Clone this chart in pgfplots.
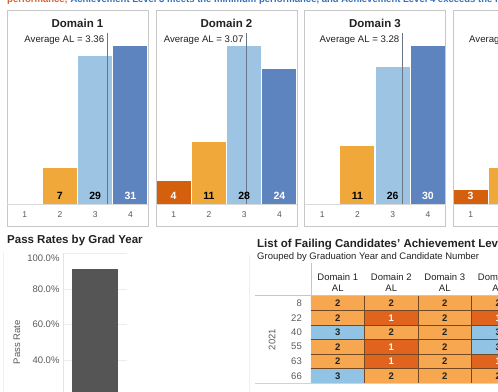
\documentclass[border=0pt]{standalone}
\usepackage{pgfplots}
\pgfplotsset{compat=1.18}
\usepackage{fontspec}
\setmainfont{Liberation Sans}
\definecolor{c1}{RGB}{212,96,14}
\definecolor{c2}{RGB}{240,168,58}
\definecolor{c3}{RGB}{158,196,228}
\definecolor{c4}{RGB}{94,132,192}
\definecolor{avgc}{RGB}{105,118,135}
\definecolor{panelc}{RGB}{200,200,200}
\definecolor{tickc}{RGB}{90,90,90}
\definecolor{darkt}{RGB}{34,34,34}
\definecolor{tb}{RGB}{115,72,35}
\definecolor{topor}{RGB}{214,98,48}
\definecolor{topbl}{RGB}{50,110,185}
\definecolor{passc}{RGB}{85,85,85}
\newcommand\titlefont{\bfseries\fontsize{11.5bp}{13bp}\selectfont}
\newcommand\avgfont{\fontsize{9.6bp}{11bp}\selectfont}
\newcommand\valfont{\bfseries\fontsize{10.5bp}{12bp}\selectfont}
\newcommand\tickfont{\fontsize{8.5bp}{10bp}\selectfont}
\newcommand\smallfont{\fontsize{9.5bp}{11bp}\selectfont}
\newcommand\pct[1]{\pgfmathprintnumber[fixed,fixed zerofill,precision=1,assume math mode=true]{#1}\%}
\pgfplotsset{
  /pgf/number format/assume math mode=true,
  domainax/.style={
    scale only axis, width=141bp, height=174bp, anchor=south west,
    xmin=0.5, xmax=4.5, ymin=0,
    axis x line*=bottom, axis y line=none, ytick=\empty,
    x axis line style={draw=gray!30, line width=0.6pt},
    xtick={1,2,3,4}, major tick length=0pt,
    xticklabel style={font=\tickfont, text=tickc, anchor=center, yshift=-11bp},
    title style={font=\titlefont, text=darkt, at={(0.5,1)}, anchor=center, yshift=1bp},
    clip=false,
  },
  barp/.style={ybar, bar width=0.97, bar shift=0pt, draw=none, fill=#1},
  avgline/.style={avgc, line width=0.8pt},
  vlab/.style={draw=none, nodes near coords, point meta=explicit symbolic,
    every node near coord/.append style={anchor=center, yshift=8bp, font=\valfont, text=#1}},
}
\begin{document}
\begin{tikzpicture}
\useasboundingbox (0,0) rectangle (498bp,392bp);
\clip (0,0) rectangle (498bp,392bp);
\fill[white] (0,0) rectangle (498bp,392bp);
% top strip text (mostly cut off)
\node[anchor=base west, inner sep=0pt, font=\bfseries\fontsize{9.5bp}{11bp}\selectfont] at (7bp,389bp)
 {\textcolor{topor}{performance;} \textcolor{topbl}{Achievement Level 3 meets the minimum performance, and Achievement Level 4 exceeds the minimum performance.}};
% panel frames
\foreach \L in {7,156,304.5,453}{
  \draw[panelc, line width=0.8pt] (\L bp,166bp) rectangle ({(\L+141)*1bp},382bp);
}
% Domain 1
\begin{axis}[domainax, at={(7bp,188bp)}, ymax=34.14, title={Domain 1}]
\addplot[barp=c2] coordinates {(2,7)};
\addplot[barp=c3] coordinates {(3,29)};
\addplot[barp=c4] coordinates {(4,31)};
\addplot[avgline] coordinates {(3.36,0) (3.36,33.55)};
\node[anchor=east, inner sep=0pt, font=\avgfont, text=darkt, xshift=-3.5bp] at (axis cs:3.36,32.09) {Average AL = 3.36};
\addplot[vlab=black] coordinates {(2,0)[7] (3,0)[29]};
\addplot[vlab=white] coordinates {(4,0)[31]};
\end{axis}
% Domain 2
\begin{axis}[domainax, at={(156bp,188bp)}, ymax=30.84, title={Domain 2}]
\addplot[barp=c1] coordinates {(1,4)};
\addplot[barp=c2] coordinates {(2,11)};
\addplot[barp=c3] coordinates {(3,28)};
\addplot[barp=c4] coordinates {(4,24)};
\addplot[avgline] coordinates {(3.07,0) (3.07,30.3)};
\node[anchor=east, inner sep=0pt, font=\avgfont, text=darkt, xshift=-3bp] at (axis cs:3.07,28.99) {Average AL = 3.07};
\addplot[vlab=black] coordinates {(2,0)[11] (3,0)[28]};
\addplot[vlab=white] coordinates {(1,0)[4] (4,0)[24]};
\end{axis}
% Domain 3
\begin{axis}[domainax, at={(304.5bp,188bp)}, ymax=33.04, title={Domain 3}]
\addplot[barp=c2] coordinates {(2,11)};
\addplot[barp=c3] coordinates {(3,26)};
\addplot[barp=c4] coordinates {(4,30)};
\addplot[avgline] coordinates {(3.28,0) (3.28,32.47)};
\node[anchor=east, inner sep=0pt, font=\avgfont, text=darkt, xshift=-3bp] at (axis cs:3.28,31.06) {Average AL = 3.28};
\addplot[vlab=black] coordinates {(2,0)[11] (3,0)[26]};
\addplot[vlab=white] coordinates {(4,0)[30]};
\end{axis}
% Domain 4 (partly visible)
\begin{axis}[domainax, at={(453bp,188bp)}, ymax=38.55, title={Domain 4}]
\addplot[barp=c1] coordinates {(1,3)};
\addplot[barp=c2] coordinates {(2,8)};
\addplot[barp=c3] coordinates {(3,21)};
\addplot[barp=c4] coordinates {(4,35)};
\addplot[avgline] coordinates {(3.31,0) (3.31,37.88)};
\node[anchor=east, inner sep=0pt, font=\avgfont, text=darkt, xshift=-3bp] at (axis cs:3.31,36.24) {Average AL = 3.31};
\addplot[vlab=black] coordinates {(2,0)[8] (3,0)[21]};
\addplot[vlab=white] coordinates {(1,0)[3] (4,0)[35]};
\end{axis}
% bottom pane borders
\draw[gray!12, line width=0.8pt] (3bp,0bp) -- (3bp,140bp);
\draw[gray!12, line width=0.8pt] (249bp,0bp) -- (249bp,137bp);
% Pass rates
\node[anchor=base west, inner sep=0pt, font=\titlefont, text=darkt] at (7bp,148bp) {Pass Rates by Grad Year};
\begin{axis}[scale only axis, anchor=south west, at={(63bp,-39bp)}, width=64bp, height=177.5bp,
  xmin=0, xmax=1, ymin=0, ymax=100, ytick={40,60,80,100},
  yticklabel={\ifnum\ticknum=3\relax\raisebox{-4.5bp}[\height][\depth]{\pct{\tick}}\else\pct{\tick}\fi},
  yticklabel style={font=\smallfont, text=tickc},
  ymajorgrids, grid style={gray!15, line width=0.6pt},
  xtick=\empty, axis x line=none, axis y line*=left,
  y axis line style={draw=gray!20, line width=0.6pt}, major tick length=0pt,
  ylabel={Pass Rate}, ylabel style={font=\smallfont, text=tickc, at={(axis description cs:-0.72,0.5)}, anchor=center}]
\addplot[ybar, bar width=0.72, bar shift=0pt, fill=passc, draw=none] coordinates {(0.5,91.0)};
\end{axis}
% Failing candidates table
\node[anchor=base west, inner sep=0pt, font=\titlefont, text=darkt] at (257bp,144bp) {List of Failing Candidates' Achievement Levels};
\node[anchor=base west, inner sep=0pt, font=\smallfont, text=darkt] at (257bp,132.7bp) {Grouped by Graduation Year and Candidate Number};
\draw[gray!45, line width=0.6pt] (311bp,96bp) -- (311bp,129bp);
\begin{axis}[scale only axis, anchor=south west, at={(311bp,9bp)}, width=214bp, height=87bp,
  xmin=0.5, xmax=4.5, ymin=0.5, ymax=6.5, y dir=reverse,
  axis line style={draw=none}, major tick length=0pt, minor tick length=0pt,
  xtick={1,2,3,4}, xticklabels={{Domain 1\\AL},{Domain 2\\AL},{Domain 3\\AL},{Domain 4\\AL}},
  xticklabel pos=upper,
  xticklabel style={align=center, anchor=south, inner sep=0pt, yshift=4bp, font=\smallfont, text=darkt},
  ytick={1,2,3,4,5,6}, yticklabels={8,22,40,55,63,66},
  yticklabel style={anchor=east, inner sep=0pt, xshift=-9bp, font=\smallfont, text=tickc},
  minor xtick={1.5,2.5,3.5}, minor ytick={1.5,2.5,3.5,4.5,5.5},
  xminorgrids, yminorgrids, minor grid style={tb, line width=0.7pt},
  axis on top,
  colormap={tbl}{rgb255=(0,0,0) rgb255=(224,100,30) rgb255=(247,167,80) rgb255=(145,196,228)},
  colormap access=direct,
  ylabel={2021}, ylabel style={font=\smallfont, text=tickc, at={(axis description cs:-0.182,0.5)}, anchor=center},
  clip=false]
\addplot[matrix plot*, mesh/cols=4, point meta=explicit] coordinates {
 (1,1)[2] (2,1)[2] (3,1)[2] (4,1)[2]
 (1,2)[2] (2,2)[1] (3,2)[2] (4,2)[1]
 (1,3)[3] (2,3)[2] (3,3)[2] (4,3)[3]
 (1,4)[2] (2,4)[1] (3,4)[2] (4,4)[3]
 (1,5)[2] (2,5)[1] (3,5)[2] (4,5)[1]
 (1,6)[3] (2,6)[2] (3,6)[2] (4,6)[2]
};
\addplot[draw=none, nodes near coords, point meta=explicit symbolic,
  every node near coord/.append style={anchor=center, font=\bfseries\fontsize{9.5bp}{11bp}\selectfont, text=darkt}]
  coordinates {(1,1)[2] (2,1)[2] (3,1)[2] (4,1)[2] (1,2)[2] (3,2)[2] (1,3)[3] (2,3)[2] (3,3)[2] (4,3)[3]
  (1,4)[2] (3,4)[2] (4,4)[3] (1,5)[2] (3,5)[2] (1,6)[3] (2,6)[2] (3,6)[2] (4,6)[2]};
\addplot[draw=none, nodes near coords, point meta=explicit symbolic,
  every node near coord/.append style={anchor=center, font=\bfseries\fontsize{9.5bp}{11bp}\selectfont, text=white}]
  coordinates {(2,2)[1] (4,2)[1] (2,4)[1] (2,5)[1] (4,5)[1]};
\end{axis}
\draw[gray!45, line width=0.6pt] (255bp,96.5bp) -- (498bp,96.5bp);
\draw[gray!35, line width=0.6pt] (255bp,8.5bp) -- (498bp,8.5bp);
\end{tikzpicture}
\end{document}
